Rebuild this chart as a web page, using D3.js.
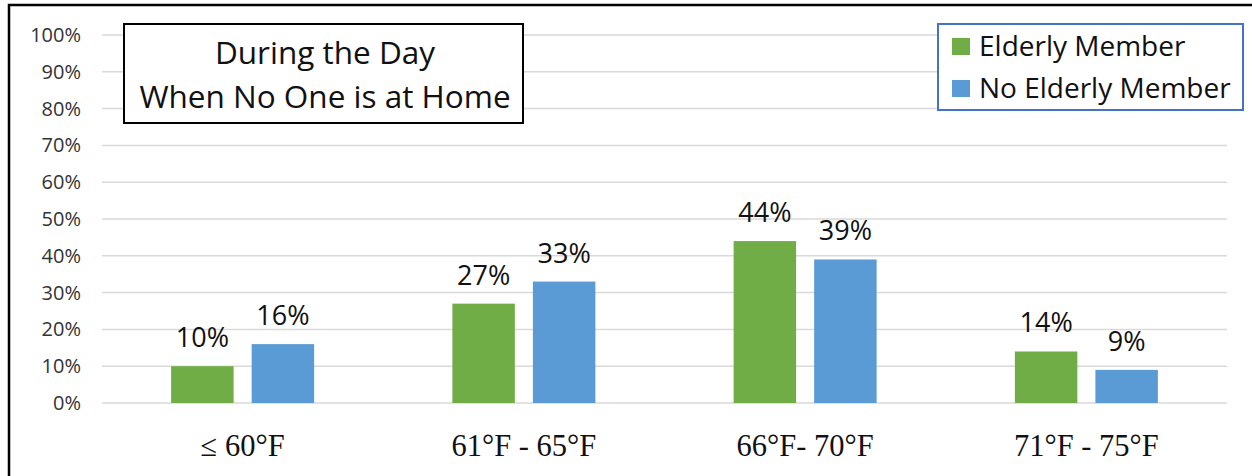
<!DOCTYPE html>
<html>
<head>
<meta charset="utf-8">
<script src="https://cdn.jsdelivr.net/npm/d3@7"></script>
<style>
  body { margin: 0; background: #fff; }
  svg { display: block; }
</style>
</head>
<body>
<svg id="chart" width="1252" height="476"></svg>
<script>
// chart values
var categories = ["\u2264 60\u00B0F", "61\u00B0F - 65\u00B0F", "66\u00B0F- 70\u00B0F", "71\u00B0F - 75\u00B0F"];
var seriesNames = ["Elderly Member", "No Elderly Member"];
var elderly = [10, 27, 44, 14];
var noElderly = [16, 33, 39, 9];
var yTicks = [0, 10, 20, 30, 40, 50, 60, 70, 80, 90, 100];
var titleLines = ["During the Day", "When No One is at Home"];

var colors = ["#70AD47", "#5B9BD5"];
var sans = "'Open Sans', Lato, sans-serif";

var svg = d3.select("#chart");

// outer frame (left + top visible)
svg.append("path")
  .attr("d", "M9,480 V5 H1260")
  .attr("fill", "none")
  .attr("stroke", "#000")
  .attr("stroke-width", 2.5);

var plotL = 102, plotR = 1227, plotT = 35, plotB = 403;

var y = d3.scaleLinear().domain([0, 100]).range([plotB, plotT]);
var x0 = d3.scaleBand().domain(categories).range([plotL, plotR]).padding(0);
var x1 = d3.scaleBand().domain(seriesNames).range([0, 143]).paddingInner(0.224);

var rows = categories.map(function(c, i) {
  return { cat: c, vals: [elderly[i], noElderly[i]] };
});

// gridlines
svg.append("g").selectAll("line")
  .data(yTicks)
  .enter().append("line")
  .attr("x1", plotL).attr("x2", plotR)
  .attr("y1", function(d) { return y(d); })
  .attr("y2", function(d) { return y(d); })
  .attr("stroke", "#D9D9D9")
  .attr("stroke-width", 1.5);

// y axis labels
var yAxis = d3.axisLeft(y).tickValues(yTicks).tickSize(0).tickPadding(0)
  .tickFormat(function(d) { return d + "%"; });
var ya = svg.append("g").attr("transform", "translate(81,0)").call(yAxis);
ya.select(".domain").remove();
ya.selectAll("text")
  .attr("font-family", sans)
  .attr("font-size", 20)
  .attr("fill", "#333");

// bars
var groups = svg.append("g").selectAll("g")
  .data(rows)
  .enter().append("g")
  .attr("transform", function(d) {
    return "translate(" + (x0(d.cat) + x0.bandwidth() / 2 - 71.5) + ",0)";
  });

groups.selectAll("rect")
  .data(function(d) { return d.vals.map(function(v, j) { return { v: v, s: seriesNames[j], j: j }; }); })
  .enter().append("rect")
  .attr("x", function(d) { return x1(d.s); })
  .attr("width", x1.bandwidth())
  .attr("y", function(d) { return y(d.v); })
  .attr("height", function(d) { return plotB - y(d.v); })
  .attr("fill", function(d) { return colors[d.j]; });

groups.selectAll("text")
  .data(function(d) { return d.vals.map(function(v, j) { return { v: v, s: seriesNames[j] }; }); })
  .enter().append("text")
  .attr("x", function(d) { return x1(d.s) + x1.bandwidth() / 2; })
  .attr("y", function(d) { return y(d.v) - 19; })
  .attr("text-anchor", "middle")
  .attr("font-family", sans)
  .attr("font-size", 27)
  .attr("fill", "#111")
  .text(function(d) { return d.v + "%"; });

// x axis labels
var xAxis = d3.axisBottom(x0).tickSize(0).tickPadding(0);
var xa = svg.append("g").attr("transform", "translate(0,456)").call(xAxis);
xa.select(".domain").remove();
xa.selectAll("text")
  .attr("dy", 0)
  .attr("font-family", "'Liberation Serif', 'DejaVu Serif', serif")
  .attr("font-size", 30.5)
  .attr("fill", "#111");

// title box
svg.append("rect")
  .attr("x", 124).attr("y", 24).attr("width", 399).attr("height", 99)
  .attr("fill", "#fff").attr("stroke", "#000").attr("stroke-width", 2);
svg.append("g").selectAll("text")
  .data(titleLines)
  .enter().append("text")
  .attr("x", 325)
  .attr("y", function(d, i) { return 64 + i * 44; })
  .attr("text-anchor", "middle")
  .attr("font-family", sans)
  .attr("font-size", 31.5)
  .attr("fill", "#111")
  .text(function(d) { return d; });

// legend
svg.append("rect")
  .attr("x", 938).attr("y", 24).attr("width", 305).attr("height", 86)
  .attr("fill", "#fff").attr("stroke", "#4472C4").attr("stroke-width", 2);
var lg = svg.append("g").selectAll("g")
  .data(seriesNames)
  .enter().append("g")
  .attr("transform", function(d, i) { return "translate(952," + (38 + i * 42) + ")"; });
lg.append("rect")
  .attr("width", 18).attr("height", 17)
  .attr("fill", function(d, i) { return colors[i]; });
lg.append("text")
  .attr("x", 27).attr("y", 18)
  .attr("font-family", sans)
  .attr("font-size", 28)
  .attr("fill", "#111")
  .text(function(d) { return d; });
</script>
</body>
</html>
